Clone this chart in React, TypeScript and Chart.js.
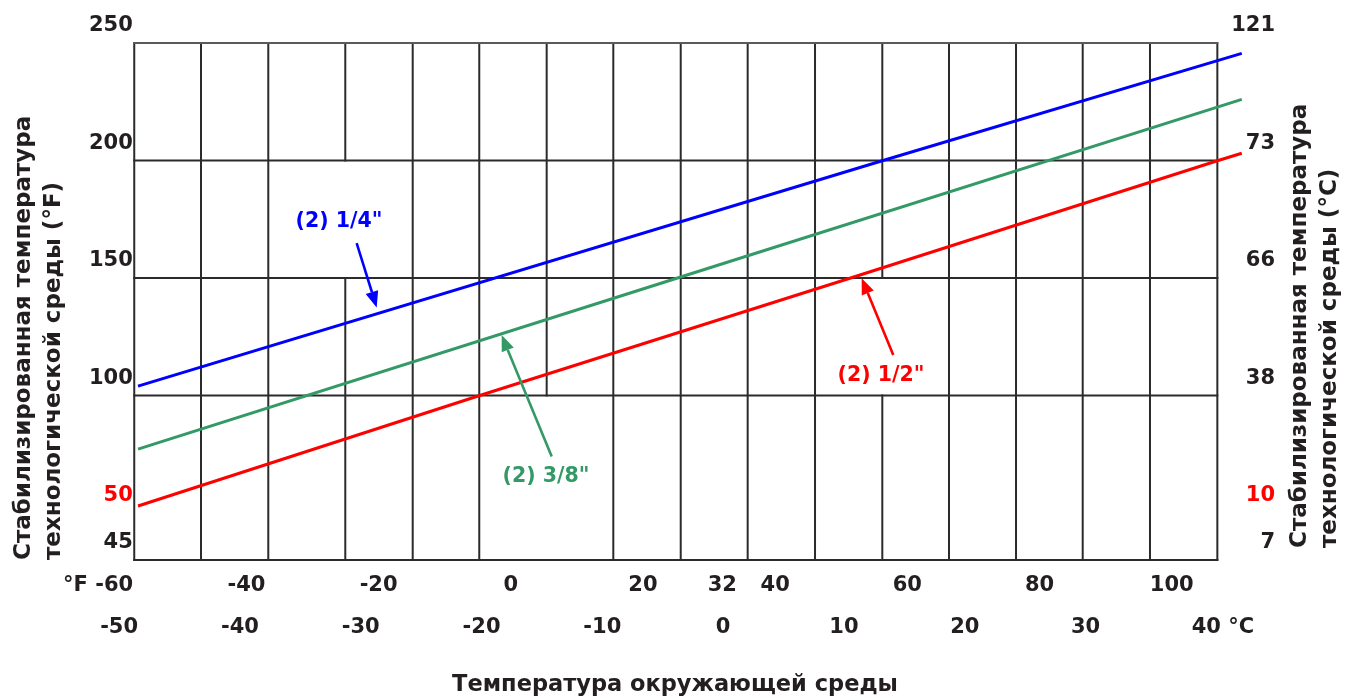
import React, { useEffect, useRef } from 'react';
import { Chart, registerables } from 'chart.js';

Chart.register(...registerables);

const FONT = '"DejaVu Sans", "Liberation Sans", sans-serif';
const INK = '#231f20';
const BLUE = '#0000ff';
const GREEN = '#339966';
const RED = '#ff0000';
const GRID = '#2b2b2b';
const GRID_TOP = '#5a5a5a';

// Axis ticks
const fTicks = [-60, -40, -20, 0, 20, 32, 40, 60, 80, 100];
const cTicks = [-50, -40, -30, -20, -10, 0, 10, 20, 30, 40];
const yTickValues = [250, 200, 150, 100, 50, 30];
const yLeftLabels = ['250', '200', '150', '100', '50', '45'];
const yRightLabels = ['121', '73', '66', '38', '10', '7'];
const yRedTick = 50;

// Axis titles
const xTitle = 'Температура окружающей среды';
const yLeftTitle = ['Стабилизированная температура', 'технологической среды (°F)'];
const yRightTitle = ['Стабилизированная температура', 'технологической среды (°C)'];

// Series (ambient °F -> stabilized process temperature)
const seriesNames = ['(2) 1/4"', '(2) 3/8"', '(2) 1/2"'];
const line14X = [-56.4, 56.2, 110.6];
const line14Y = [104.0, 199.9, 245.6];
const line38X = [-56.4, 25.1, 110.6];
const line38Y = [77.2, 149.9, 226.0];
const line12X = [-56.4, -4.7, 51.3, 106.9, 110.6];
const line12Y = [53.0, 100.0, 149.9, 199.9, 203.1];

// Grid of the printed chart
const gridX = [-56.97, -46.87, -36.69, -25.04, -14.84, -4.77, 5.43, 15.51, 25.71, 35.84, 46.03, 56.21, 66.3, 76.44, 86.53, 96.71, 106.9];
const gridY = [200, 150, 100, 30];
const gridTopY = 250;
const gridGapX = [-25.04, 5.43, 56.21];
const gridGapFrom = [150, 30, 100];
const gridGapTo = [200, 100, 150];

// Annotations
const noteX = [-25.99, 5.33, 56.01];
const noteY = [174.0, 65.3, 108.3];
const arrowFromX = [-23.32, 6.19, 57.87];
const arrowFromY = [164.8, 74.0, 117.2];
const arrowToX = [-20.29, -1.38, 53.09];
const arrowToY = [137.5, 125.7, 149.9];
const noteColors = [BLUE, GREEN, RED];

const TICK_SIZE = 21;
const TICK_LH = 1.2;
const F_PAD = 13.4;
const C_PAD = 5;
const TITLE_SIZE = 23;

const toPts = (xs: number[], ys: number[]) => xs.map((x, i) => ({ x, y: ys[i] }));

function buildVertical() {
  const pts: any[] = [];
  const lo = gridY[gridY.length - 1];
  gridX.forEach((x) => {
    const gi = gridGapX.indexOf(x);
    const segs: number[][] = [];
    if (gi < 0) segs.push([lo, gridTopY]);
    else {
      if (gridGapFrom[gi] > lo) segs.push([lo, gridGapFrom[gi]]);
      if (gridGapTo[gi] < gridTopY) segs.push([gridGapTo[gi], gridTopY]);
    }
    segs.forEach((s) => {
      pts.push({ x, y: s[0] }, { x, y: s[1] }, { x, y: null });
    });
  });
  return pts;
}

function buildHorizontal() {
  const pts: any[] = [];
  const x0 = gridX[0];
  const x1 = gridX[gridX.length - 1];
  gridY.forEach((y) => {
    pts.push({ x: x0, y }, { x: x1, y }, { x: x1, y: null });
  });
  return pts;
}

const annotationPlugin = {
  id: 'annotations',
  afterDatasetsDraw(chart: any) {
    const { ctx } = chart;
    const xs = chart.scales.x;
    const ys = chart.scales.y;
    ctx.save();
    for (let i = 0; i < noteX.length; i++) {
      const color = noteColors[i];
      const x0 = xs.getPixelForValue(arrowFromX[i]);
      const y0 = ys.getPixelForValue(arrowFromY[i]);
      const x1 = xs.getPixelForValue(arrowToX[i]);
      const y1 = ys.getPixelForValue(arrowToY[i]);
      const ang = Math.atan2(y1 - y0, x1 - x0);
      const headLen = 16;
      const headW = 6.5;
      const bx = x1 - Math.cos(ang) * headLen;
      const by = y1 - Math.sin(ang) * headLen;
      ctx.strokeStyle = color;
      ctx.fillStyle = color;
      ctx.lineWidth = 2.6;
      ctx.beginPath();
      ctx.moveTo(x0, y0);
      ctx.lineTo(bx, by);
      ctx.stroke();
      ctx.beginPath();
      ctx.moveTo(x1, y1);
      ctx.lineTo(bx - Math.sin(ang) * headW, by + Math.cos(ang) * headW);
      ctx.lineTo(bx + Math.sin(ang) * headW, by - Math.cos(ang) * headW);
      ctx.closePath();
      ctx.fill();
      ctx.font = `bold 20.5px ${FONT}`;
      ctx.textAlign = 'center';
      ctx.textBaseline = 'middle';
      ctx.fillText(seriesNames[i], xs.getPixelForValue(noteX[i]), ys.getPixelForValue(noteY[i]));
    }
    ctx.restore();
  },
  afterDraw(chart: any) {
    const { ctx } = chart;
    const xs = chart.scales.x;
    const xc = chart.scales.x2;
    const yr = chart.scales.y2;
    ctx.save();
    ctx.fillStyle = INK;
    ctx.font = `bold ${TICK_SIZE}px ${FONT}`;
    ctx.textBaseline = 'middle';
    const space = ctx.measureText(' ').width;
    // °F unit before first Fahrenheit tick
    const pF = xs.getPixelForValue(fTicks[0]);
    const wF = ctx.measureText(String(fTicks[0])).width;
    ctx.textAlign = 'right';
    ctx.fillText('°F', pF - wF / 2 - space, xs.top + F_PAD + (TICK_SIZE * TICK_LH) / 2);
    // °C unit after last Celsius tick
    const last = cTicks[cTicks.length - 1];
    const pC = xc.getPixelForValue(last);
    const wC = ctx.measureText(String(last)).width;
    ctx.textAlign = 'left';
    ctx.fillText('°C', pC + wC / 2 + space, xc.top + C_PAD + (TICK_SIZE * TICK_LH) / 2);
    // right axis title, reading bottom-to-top like the left one
    ctx.font = `bold ${TITLE_SIZE}px ${FONT}`;
    ctx.textAlign = 'left';
    ctx.textBaseline = 'alphabetic';
    yRightTitle.forEach((t, i) => {
      ctx.save();
      ctx.translate(yr.right + 31 + i * 30.3, yr.bottom - 12);
      ctx.rotate(-Math.PI / 2);
      ctx.fillText(t, 0, 0);
      ctx.restore();
    });
    ctx.restore();
  },
};

const tickFont = { family: FONT, size: TICK_SIZE, weight: 'bold' as const, lineHeight: TICK_LH };

export default function App() {
  const ref = useRef<HTMLCanvasElement | null>(null);

  useEffect(() => {
    if (!ref.current) return;
    const lineStyle = { pointRadius: 0, pointHoverRadius: 0, tension: 0, fill: false, clip: false as any };
    const chart = new Chart(ref.current, {
      type: 'line',
      data: {
        datasets: [
          { label: seriesNames[0], data: toPts(line14X, line14Y), borderColor: BLUE, borderWidth: 3, order: 0, ...lineStyle },
          { label: seriesNames[1], data: toPts(line38X, line38Y), borderColor: GREEN, borderWidth: 3, order: 0, ...lineStyle },
          { label: seriesNames[2], data: toPts(line12X, line12Y), borderColor: RED, borderWidth: 3, order: 0, ...lineStyle },
          { label: 'gridV', data: buildVertical(), borderColor: GRID, borderWidth: 2, borderCapStyle: 'square', spanGaps: false, order: 2, ...lineStyle },
          { label: 'gridH', data: buildHorizontal(), borderColor: GRID, borderWidth: 2, borderCapStyle: 'square', spanGaps: false, order: 2, ...lineStyle },
          { label: 'gridTop', data: [{ x: gridX[0], y: gridTopY }, { x: gridX[gridX.length - 1], y: gridTopY }], borderColor: GRID_TOP, borderWidth: 2, borderCapStyle: 'square', order: 1, ...lineStyle },
        ] as any,
      },
      options: {
        animation: false,
        responsive: true,
        maintainAspectRatio: false,
        events: [],
        layout: { padding: { top: 43, bottom: 0, left: 0, right: 81 } },
        plugins: { legend: { display: false }, tooltip: { enabled: false } },
        scales: {
          x: {
            type: 'linear', position: 'bottom', weight: 1, min: -62, max: 111.69,
            afterBuildTicks: (s: any) => { s.ticks = fTicks.map((v) => ({ value: v })); },
            ticks: { autoSkip: false, maxRotation: 0, minRotation: 0, padding: F_PAD, font: tickFont, color: INK, callback: (v: any) => String(v) },
            grid: { display: false, drawTicks: false },
            border: { display: false },
            afterFit: (s: any) => { s.height = 50; },
          },
          x2: {
            type: 'linear', position: 'bottom', weight: 2, min: -51.5, max: 43.53,
            afterBuildTicks: (s: any) => { s.ticks = cTicks.map((v) => ({ value: v })); },
            ticks: { autoSkip: false, maxRotation: 0, minRotation: 0, padding: C_PAD, font: tickFont, color: INK, callback: (v: any) => String(v) },
            grid: { display: false, drawTicks: false },
            border: { display: false },
            title: { display: true, text: xTitle, color: INK, font: { family: FONT, size: 22.5, weight: 'bold', lineHeight: 1.2 }, padding: { top: 0, bottom: -1 } },
            afterFit: (s: any) => { s.height = 88; },
          },
          y: {
            type: 'linear', position: 'left', min: 30, max: 250,
            afterBuildTicks: (s: any) => { s.ticks = yTickValues.map((v) => ({ value: v })); },
            ticks: {
              autoSkip: false, mirror: true, crossAlign: 'far', padding: -12, labelOffset: -17, font: tickFont,
              color: (c: any) => (c.tick && c.tick.value === yRedTick ? RED : INK),
              callback: (v: any) => yLeftLabels[yTickValues.indexOf(v)],
            },
            grid: { display: false, drawTicks: false },
            border: { display: false },
            title: { display: true, text: yLeftTitle, align: 'start', color: INK, font: { family: FONT, size: TITLE_SIZE, weight: 'bold', lineHeight: 30.3 / TITLE_SIZE }, padding: { top: 9, bottom: 0 } },
            afterFit: (s: any) => { s.width = 101; },
          },
          y2: {
            type: 'linear', position: 'right', min: 30, max: 250,
            afterBuildTicks: (s: any) => { s.ticks = yTickValues.map((v) => ({ value: v })); },
            ticks: {
              autoSkip: false, mirror: true, crossAlign: 'near', padding: 26, labelOffset: -17, font: tickFont,
              color: (c: any) => (c.tick && c.tick.value === yRedTick ? RED : INK),
              callback: (v: any) => yRightLabels[yTickValues.indexOf(v)],
            },
            grid: { display: false, drawTicks: false },
            border: { display: false },
            afterFit: (s: any) => { s.width = 26; },
          },
        } as any,
      },
      plugins: [annotationPlugin],
    });
    return () => chart.destroy();
  }, []);

  return (
    <div style={{ position: 'fixed', left: 0, top: 0, width: 1356, height: 698, background: '#fff' }}>
      <canvas ref={ref} />
    </div>
  );
}
